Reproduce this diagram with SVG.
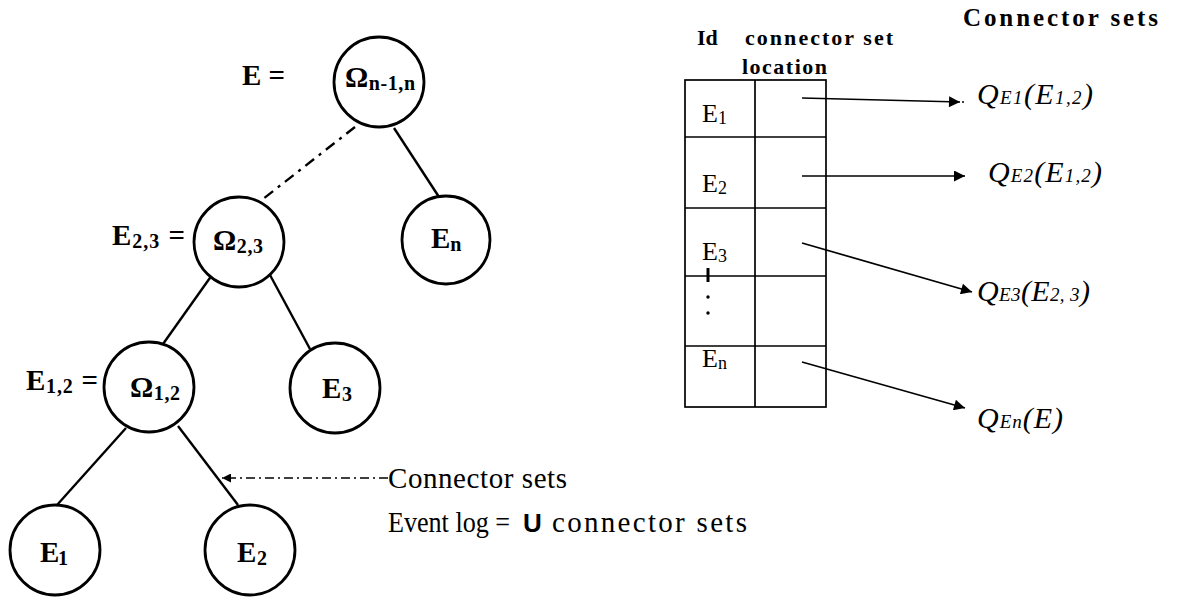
<svg xmlns="http://www.w3.org/2000/svg" width="1184" height="601" viewBox="0 0 1184 601">
<style>
.node circle{fill:#fff;stroke:#000;stroke-width:2.8}
.lbl{font-family:"Liberation Serif","Times New Roman",serif;font-weight:bold;font-size:29px;fill:#000}
.sub{font-size:20px}
.edge{stroke:#000;stroke-width:2.4;fill:none}
.dd{stroke-dasharray:11,6,3,6}
.dd2{stroke-dasharray:9,4,2,4;stroke-width:1.6}
.arr{stroke:#000;stroke-width:1.7;fill:none}
.tbl{stroke:#000;stroke-width:1.7;fill:none}
.rt{font-family:"Liberation Serif","Times New Roman",serif;font-size:26px;fill:#000}
.hd{font-family:"Liberation Serif","Times New Roman",serif;font-weight:bold;font-size:22px;fill:#000}
.q{font-family:"Liberation Serif","Times New Roman",serif;font-style:italic;font-size:30px;fill:#000}
.qs{font-size:19px}
.txt{font-family:"Liberation Serif","Times New Roman",serif;font-size:29px;fill:#000}
</style>
<defs>
<marker id="ah" viewBox="0 0 10 10" refX="10" refY="5" markerWidth="15" markerHeight="11" markerUnits="userSpaceOnUse" orient="auto">
<path d="M0,0 L10,5 L0,10 Z" fill="#000"/>
</marker>
<marker id="ahs" viewBox="0 0 10 10" refX="10" refY="5" markerWidth="10" markerHeight="9" markerUnits="userSpaceOnUse" orient="auto">
<path d="M0,0 L10,5 L0,10 Z" fill="#000"/>
</marker>
</defs>
<rect width="1184" height="601" fill="#fff"/>

<g id="connectors">
<line class="edge dd" x1="355" y1="127" x2="263" y2="199"/>
<line class="edge" x1="394" y1="128" x2="439" y2="197"/>
<line class="edge" x1="212" y1="275" x2="163" y2="344"/>
<line class="edge" x1="270" y1="275" x2="310" y2="349"/>
<line class="edge" x1="126" y1="428" x2="57" y2="505"/>
<line class="edge" x1="178" y1="426" x2="238" y2="505"/>
<line class="edge dd2" x1="388" y1="478" x2="222" y2="478" marker-end="url(#ahs)"/>
<line class="arr" x1="802" y1="98" x2="960" y2="102" marker-end="url(#ah)"/>
<line class="arr" x1="802" y1="176" x2="965" y2="176" marker-end="url(#ah)"/>
<line class="arr" x1="802" y1="243" x2="972" y2="292" marker-end="url(#ah)"/>
<line class="arr" x1="802" y1="362" x2="965" y2="408" marker-end="url(#ah)"/>
</g>

<g id="node-E" class="node">
<circle cx="379" cy="82" r="45"/>
<text class="lbl" x="345" y="87" textLength="70">Ω<tspan class="sub" dy="3">n-1,n</tspan></text>
</g>
<text id="label-E" class="lbl" x="242" y="85" textLength="43">E =</text>

<g id="node-E23" class="node">
<circle cx="239" cy="242" r="45"/>
<text class="lbl" x="213" y="250" textLength="50">Ω<tspan class="sub" dy="3">2,3</tspan></text>
</g>
<text id="label-E23" class="lbl" x="112" y="245" textLength="73">E<tspan class="sub" dy="3">2,3</tspan><tspan dy="-3"> =</tspan></text>

<g id="node-En" class="node">
<circle cx="446" cy="240" r="44"/>
<text class="lbl" x="431" y="248">E<tspan class="sub" dy="3">n</tspan></text>
</g>

<g id="node-E12" class="node">
<circle cx="149" cy="387" r="45"/>
<text class="lbl" x="130" y="397" textLength="50">Ω<tspan class="sub" dy="3">1,2</tspan></text>
</g>
<text id="label-E12" class="lbl" x="26" y="390" textLength="72">E<tspan class="sub" dy="3">1,2</tspan><tspan dy="-3"> =</tspan></text>

<g id="node-E3" class="node">
<circle cx="335" cy="388" r="45"/>
<text class="lbl" x="322" y="398" textLength="30">E<tspan class="sub" dy="3">3</tspan></text>
</g>

<g id="node-E1" class="node">
<circle cx="55" cy="550" r="45"/>
<text class="lbl" x="40" y="562" textLength="28">E<tspan class="sub" dy="3">1</tspan></text>
</g>

<g id="node-E2" class="node">
<circle cx="250" cy="550" r="45"/>
<text class="lbl" x="237" y="562" textLength="30">E<tspan class="sub" dy="3">2</tspan></text>
</g>

<g id="annotation">
<text class="txt" x="388" y="488" textLength="179">Connector sets</text>
<text class="txt" x="388" y="532" textLength="122" lengthAdjust="spacingAndGlyphs">Event log =</text>
<text x="523" y="532" font-family="'Liberation Sans',Arial,sans-serif" font-weight="bold" font-size="26">U</text>
<text class="txt" x="552" y="532" textLength="195">connector sets</text>
</g>

<g id="table">
<rect class="tbl" x="685" y="80" width="141" height="327"/>
<line class="tbl" x1="755" y1="80" x2="755" y2="407"/>
<line class="tbl" x1="685" y1="137" x2="826" y2="137"/>
<line class="tbl" x1="685" y1="208" x2="826" y2="208"/>
<line class="tbl" x1="685" y1="276" x2="826" y2="276"/>
<line class="tbl" x1="685" y1="346" x2="826" y2="346"/>
<text class="hd" x="697" y="45">Id</text>
<text class="hd" x="745" y="45" textLength="148">connector set</text>
<text class="hd" x="742" y="74" textLength="85">location</text>
<text class="rt" x="702" y="122">E<tspan font-size="18" dy="2">1</tspan></text>
<text class="rt" x="702" y="192">E<tspan font-size="18" dy="2">2</tspan></text>
<text class="rt" x="702" y="260">E<tspan font-size="18" dy="2">3</tspan></text>
<text class="rt" x="702" y="367">E<tspan font-size="18" dy="2">n</tspan></text>
<line x1="708" y1="268" x2="708" y2="282" stroke="#000" stroke-width="3"/>
<circle cx="708" cy="297" r="1.7" fill="#000"/>
<circle cx="708" cy="313" r="1.7" fill="#000"/>
</g>

<g id="connector-sets">
<text class="hd" x="963" y="26" textLength="195" style="font-size:25px">Connector sets</text>
<circle cx="963" cy="102" r="1" fill="#000"/>
<text class="q" x="977" y="104" textLength="116">Q<tspan class="qs">E1</tspan>(E<tspan class="qs">1,2</tspan>)</text>
<text class="q" x="988" y="182" textLength="114">Q<tspan class="qs">E2</tspan>(E<tspan class="qs">1,2</tspan>)</text>
<text class="q" x="977" y="301" textLength="113">Q<tspan class="qs">E3</tspan>(E<tspan class="qs">2, 3</tspan>)</text>
<text class="q" x="977" y="428" textLength="86">Q<tspan class="qs">En</tspan>(E)</text>
</g>
</svg>
